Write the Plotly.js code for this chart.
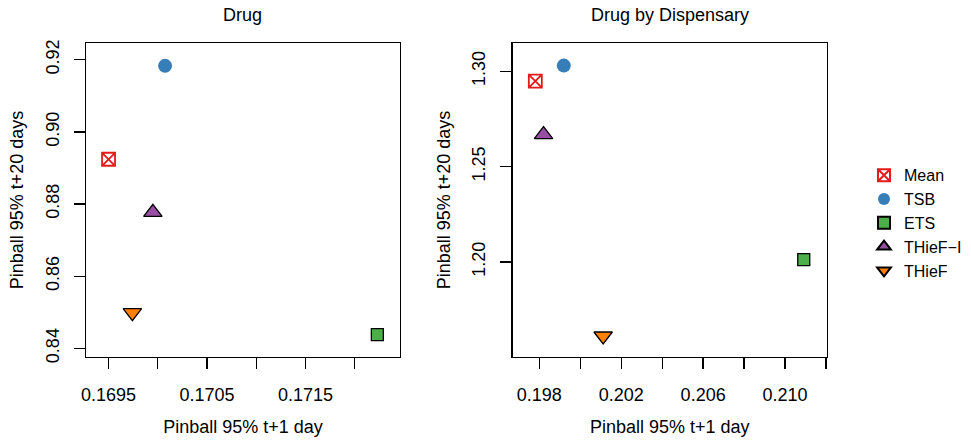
<!DOCTYPE html>
<html>
<head>
<meta charset="utf-8">
<script src="https://cdn.plot.ly/plotly-3.0.1.min.js"></script>
<style>html,body{margin:0;padding:0;background:#fff;}</style>
</head>
<body>
<div id="chart" style="width:971px;height:443px;"></div>
<script>
// ---- data ----
const methods = ["Mean", "TSB", "ETS", "THieF\u2212I", "THieF"];
const drugX = [0.16950, 0.170074, 0.17223, 0.16995, 0.169742];
const drugY = [0.8924, 0.9183, 0.8438, 0.8777, 0.8499];
const dispX = [0.19781, 0.19920, 0.21091, 0.19821, 0.20112];
const dispY = [1.29476, 1.30294, 1.2012, 1.26675, 1.16119];

const drugXTicks = [0.1695, 0.1700, 0.1705, 0.1710, 0.1715, 0.1720];
const drugXLabels = ["0.1695", "", "0.1705", "", "0.1715", ""];
const drugYTicks = [0.84, 0.86, 0.88, 0.90, 0.92];
const drugYLabels = ["0.84", "0.86", "0.88", "0.90", "0.92"];
const dispXTicks = [0.198, 0.200, 0.202, 0.204, 0.206, 0.208, 0.210, 0.212];
const dispXLabels = ["0.198", "", "0.202", "", "0.206", "", "0.210", ""];
const dispYTicks = [1.20, 1.25, 1.30];
const dispYLabels = ["1.20", "1.25", "1.30"];

const panelTitles = ["Drug", "Drug by Dispensary"];
const xTitle = "Pinball 95% t+1 day";
const yTitle = "Pinball 95% t+20 days";

// ---- styles ----
const styles = [
  {symbol: "square-x-open", size: 13, color: "#E41A1C", line: {color: "#E41A1C", width: 1.8}},
  {symbol: "circle", size: 14, color: "#377EB8", line: {width: 0}},
  {symbol: "square", size: 12, color: "#4DAF4A", line: {color: "#000", width: 1.3}},
  {symbol: "triangle-up", size: 16, color: "#984EA3", line: {color: "#000", width: 1.3}},
  {symbol: "triangle-down", size: 16, color: "#FF7F00", line: {color: "#000", width: 1.3}}
];

const traces = [];
methods.forEach((m, i) => {
  traces.push({
    type: "scatter", mode: "markers", name: m, legendgroup: m,
    x: [drugX[i]], y: [drugY[i]], xaxis: "x", yaxis: "y",
    marker: styles[i], showlegend: true, hoverinfo: "x+y+name"
  });
  traces.push({
    type: "scatter", mode: "markers", name: m, legendgroup: m,
    x: [dispX[i]], y: [dispY[i]], xaxis: "x2", yaxis: "y2",
    marker: styles[i], showlegend: false, hoverinfo: "x+y+name"
  });
});

const W = 971, H = 443;
const fam = "Liberation Sans, Arial, Helvetica, sans-serif";
const font = {family: fam, size: 18, color: "#000"};

function axisBase() {
  return {
    showgrid: false, zeroline: false, showline: true, mirror: true,
    linecolor: "#000", linewidth: 1.3, ticks: "outside", ticklen: 11,
    tickwidth: 1.3, tickcolor: "#000", tickmode: "array",
    tickfont: {family: fam, size: 18, color: "#000"},
    fixedrange: true
  };
}
const yDom = [1 - 357 / H, 1 - 43 / H];

const layout = {
  width: W, height: H,
  margin: {l: 0, r: 0, t: 0, b: 0},
  paper_bgcolor: "#fff", plot_bgcolor: "#fff",
  font: font,
  showlegend: true,
  legend: {
    x: 864 / W, xanchor: "left", y: 1 - 222.8 / H, yanchor: "middle",
    font: {family: fam, size: 16, color: "#000"},
    itemsizing: "constant", tracegroupgap: 0, bgcolor: "rgba(0,0,0,0)"
  },
  xaxis: Object.assign(axisBase(), {
    domain: [86 / W, 400 / W], anchor: "y",
    range: [0.169271, 0.17246],
    tickvals: drugXTicks, ticktext: drugXLabels, ticklabelstandoff: 10,
    title: {text: xTitle, font: {family: fam, size: 18, color: "#000"}, standoff: 16}
  }),
  yaxis: Object.assign(axisBase(), {
    domain: yDom, anchor: "x",
    range: [0.83759, 0.92463],
    tickvals: drugYTicks, ticktext: drugYLabels, tickangle: -90, ticklabelstandoff: 8,
    title: {text: yTitle, font: {family: fam, size: 18, color: "#000"}, standoff: 14}
  }),
  xaxis2: Object.assign(axisBase(), {
    domain: [512.7 / W, 826.7 / W], anchor: "y2",
    range: [0.196706, 0.21203],
    tickvals: dispXTicks, ticktext: dispXLabels, ticklabelstandoff: 10,
    title: {text: xTitle, font: {family: fam, size: 18, color: "#000"}, standoff: 16}
  }),
  yaxis2: Object.assign(axisBase(), {
    domain: yDom, anchor: "x2",
    range: [1.15017, 1.3148],
    tickvals: dispYTicks, ticktext: dispYLabels, tickangle: -90, ticklabelstandoff: 8,
    title: {text: yTitle, font: {family: fam, size: 18, color: "#000"}, standoff: 14}
  }),
  annotations: [
    {text: panelTitles[0], xref: "paper", yref: "paper", x: 243 / W, y: 1 - 15 / H,
     xanchor: "center", yanchor: "middle", showarrow: false, font: {family: fam, size: 18, color: "#000"}},
    {text: panelTitles[1], xref: "paper", yref: "paper", x: 669.7 / W, y: 1 - 15 / H,
     xanchor: "center", yanchor: "middle", showarrow: false, font: {family: fam, size: 18, color: "#000"}}
  ]
};

Plotly.newPlot("chart", traces, layout, {displayModeBar: false, staticPlot: true});
</script>
</body>
</html>
